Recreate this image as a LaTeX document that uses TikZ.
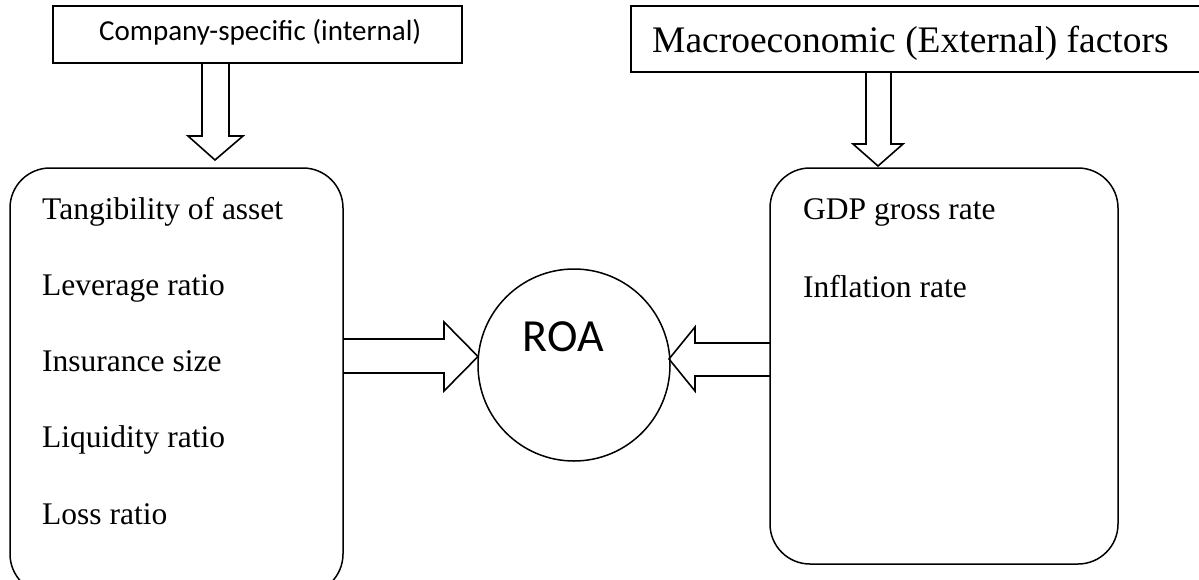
\documentclass[tikz,border=0pt]{standalone}
\usepackage{fontspec}
\setmainfont{Liberation Serif}
\newfontfamily\calibri{Carlito}
\begin{document}
\begin{tikzpicture}[x=1pt,y=-1pt,
  frame/.style={draw=black, line width=2pt, inner sep=0pt},
  rbox/.style={draw=black, line width=1.5pt, rounded corners=40pt, inner sep=0pt},
  roa/.style={draw=black, line width=1.5pt, circle, inner sep=0pt, minimum size=192pt},
  blockarrow/.style={draw=black, line width=1.6pt, line join=miter},
  item/.style={anchor=base west, inner sep=0pt, font=\fontsize{31.5}{36}\selectfont},
  headtxt/.style={anchor=base west, inner sep=0pt}]
\useasboundingbox[fill=white] (0,0) rectangle (1199,579);
% block arrows (drawn first so the box borders stay continuous)
\draw[blockarrow] (202,63) -- (202,136) -- (188,136) -- (215,160) -- (243,136) -- (229,136) -- (229,63);
\draw[blockarrow] (866,72) -- (866,144) -- (853,144) -- (878,166) -- (903,144) -- (891,144) -- (891,72);
\draw[blockarrow] (343,339) -- (444,339) -- (444,322) -- (478,356.5) -- (444,391) -- (444,373) -- (343,373);
\draw[blockarrow] (770,343) -- (695,343) -- (695,327) -- (669,359) -- (695,391) -- (695,376) -- (770,376);
% top boxes
\node[frame, minimum width=409pt, minimum height=57pt] (cs) at (257.5,34.5) {};
\node[headtxt, font=\calibri\fontsize{29}{34}\selectfont] (cstxt) at (99,40) {Company-specific (internal)};
\node[frame, minimum width=580pt, minimum height=66pt] (me) at (921,39) {};
\node[headtxt, font=\fontsize{37.5}{42}\selectfont] (metxt) at (652,52) {Macroeconomic (External) factors};
% rounded boxes
\node[rbox, minimum width=333pt, minimum height=426pt] (L) at (176.5,381) {};
\node[rbox, minimum width=348pt, minimum height=396pt] (R) at (944,366) {};
% circle
\node[roa] (C) at (574,365) {};
\node[anchor=base, inner sep=0pt, font=\calibri\fontsize{46}{52}\selectfont] (roatxt) at (563.5,351) {ROA};
% items
\node[item] (i1) at (42,219) {Tangibility of asset};
\node[item] (i2) at (42,295) {Leverage ratio};
\node[item] (i3) at (42,371) {Insurance size};
\node[item] (i4) at (42,447) {Liquidity ratio};
\node[item] (i5) at (42,524) {Loss ratio};
\node[item] (j1) at (803,219) {GDP gross rate};
\node[item] (j2) at (803,297) {Inflation rate};
\end{tikzpicture}
\end{document}
